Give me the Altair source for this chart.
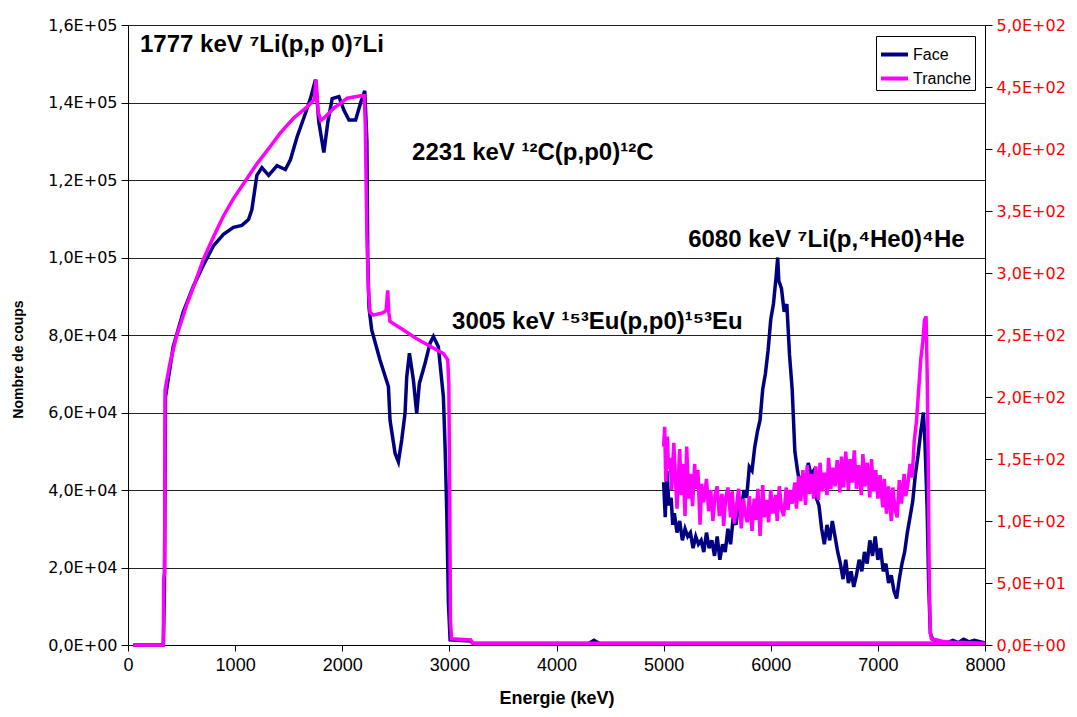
import altair as alt
import pandas as pd

# ---------------- data ----------------
# Face, main spectrum (left axis, counts in thousands)
face_a_e = [50, 330, 340, 350, 422, 516, 609, 703, 797, 891, 984, 1063, 1125, 1156, 1203, 1250,
            1313, 1391, 1469, 1516, 1578, 1641, 1703, 1750, 1781, 1828, 1866, 1906, 1969, 2016,
            2063, 2125, 2172, 2210, 2230, 2238, 2250, 2275, 2353, 2431, 2446, 2493, 2524, 2555,
            2586, 2602, 2627, 2664, 2695, 2720, 2773, 2820, 2851, 2897, 2944, 2960, 2976, 2991,
            3007, 3200, 3220, 4300, 4350, 4400, 8000]
face_a_v = [0, 0, 15, 64, 77, 86, 92.5, 98, 103, 106, 107.8, 108.3, 109.8, 112.3, 121.2,
            123.2, 121.2, 123.7, 122.7, 125.2, 131.1, 136, 141, 145.9, 135, 127.1, 135, 141, 141.5,
            138, 135.5, 135.5, 140, 143, 130, 100, 87, 81.3, 73.5, 66.7, 58, 49.5, 47.3, 52.9, 59.8,
            69.2, 75.3, 68.4, 59.8, 67.5, 72.7, 77.9, 79.6, 77, 64.1, 51.2, 34, 10.8, 1.3, 1, 0.4,
            0.4, 1.2, 0.4, 0.4]

# Face, 5000-8000 keV region (left axis, counts in thousands)
face_b_e = [5000, 5015, 5030, 5050, 5070, 5085, 5100, 5125, 5150, 5175, 5200, 5225, 5250, 5275,
            5300, 5325, 5350, 5375, 5400, 5425, 5450, 5475, 5500, 5525, 5550, 5575, 5600, 5625,
            5650, 5675, 5700, 5725, 5750, 5775, 5800, 5825, 5850, 5875, 5900, 5925, 5950, 5975,
            6000, 6025, 6050, 6065, 6075, 6100, 6125, 6150, 6175, 6200, 6225, 6250, 6275, 6300,
            6325, 6350, 6375, 6400, 6425, 6450, 6475, 6500, 6525, 6550, 6575, 6600, 6625, 6650,
            6675, 6700, 6725, 6750, 6775, 6800, 6825, 6850, 6875, 6900, 6925, 6950, 6975, 7000,
            7025, 7050, 7075, 7100, 7125, 7150, 7175, 7200, 7225, 7250, 7275, 7300, 7325, 7350,
            7375, 7400, 7425, 7440, 7460, 7475, 7490, 7510, 7550, 7650, 7700, 7750, 7800, 7850,
            7900, 8000]
face_b_v = [42, 33, 45, 36, 38, 31, 34, 29, 32, 27, 30, 28, 29, 25, 28, 26, 27, 24, 29, 25, 27,
            23, 28, 22, 26, 24, 30, 26, 33, 31, 36, 35, 40, 38, 46, 45, 51, 55, 58, 66, 70, 76,
            84, 88, 95, 100, 94, 92, 86, 88, 75, 66, 50, 45, 41, 44, 40, 47, 44, 45, 38, 36, 30,
            26, 31, 27, 32, 28, 24, 21, 17, 22, 16, 19, 15, 18, 22, 19, 24, 21, 27, 23, 28, 22,
            25, 19, 21, 16, 18, 14, 12, 17, 21, 24, 29, 33, 37, 44, 49, 55, 60, 52, 35, 15, 3,
            1.5, 1, 0.6, 1.2, 0.6, 1.5, 0.8, 1.2, 0.5]

# Tranche, main spectrum (right axis, counts)
tr_a_e = [50, 330, 333, 342, 346, 391, 453, 547, 625, 703, 797, 891, 984, 1078, 1203, 1328,
          1422, 1547, 1672, 1740, 1755, 1775, 1800, 1830, 1922, 2047, 2172, 2205, 2215, 2230,
          2244, 2260, 2290, 2384, 2410, 2424, 2435, 2446, 2571, 2695, 2820, 2944, 2985, 2995,
          3003, 3010, 3020, 3200, 3220, 8000]
tr_a_v = [0, 0, 54, 58, 206, 227, 249, 274, 292, 311, 329, 346, 360, 372, 388, 402, 413, 425,
          434, 440, 456, 430, 423, 425, 433, 441, 443, 443, 420, 330, 286, 268, 266, 268, 270,
          286, 268, 261, 254, 247, 241, 235, 230, 210, 120, 20, 5, 4, 1.5, 1.5]

# Tranche, 5000-8000 keV region (right axis, counts)
tr_b_e = [5000, 5010, 5020, 5035, 5045, 5060, 5075, 5095, 5110, 5125, 5150, 5165, 5180, 5200,
          5215, 5235, 5250, 5270, 5290, 5300, 5320, 5340, 5355, 5375, 5400, 5420, 5440, 5460,
          5480, 5500, 5520, 5545, 5560, 5580, 5600, 5625, 5640, 5660, 5680, 5700, 5725, 5745,
          5760, 5780, 5800, 5825, 5845, 5860, 5880, 5900, 5925, 5940, 5960, 5980, 6000, 6020,
          6045, 6060, 6080, 6100, 6120, 6145, 6160, 6180, 6200, 6225, 6240, 6260, 6280, 6300,
          6325, 6340, 6360, 6380, 6400, 6420, 6445, 6460, 6480, 6500, 6525, 6540, 6560, 6580,
          6600, 6620, 6645, 6660, 6680, 6700, 6725, 6740, 6760, 6780, 6800, 6820, 6845, 6860,
          6880, 6900, 6925, 6940, 6960, 6980, 7000, 7020, 7045, 7060, 7080, 7100, 7125, 7140,
          7160, 7180, 7200, 7220, 7245, 7260, 7280, 7300, 7320, 7340, 7360, 7380, 7400, 7420,
          7435, 7450, 7460, 7470, 7480, 7490, 7500, 7600, 7700, 7800, 8000]
tr_b_v = [160, 176, 132, 168, 142, 151, 125, 163, 135, 110, 158, 121, 146, 104, 160, 118, 138,
          112, 146, 126, 141, 97, 130, 115, 134, 108, 125, 100, 121, 128, 104, 122, 96, 119, 127,
          103, 124, 98, 112, 126, 94, 118, 107, 99, 120, 92, 118, 101, 126, 88, 129, 103, 117,
          99, 125, 106, 121, 100, 128, 110, 104, 127, 109, 125, 114, 131, 110, 136, 116, 141,
          113, 145, 122, 138, 118, 144, 117, 147, 124, 139, 121, 151, 126, 143, 128, 149, 123,
          152, 127, 156, 125, 150, 131, 157, 126, 145, 121, 154, 128, 147, 119, 150, 124, 141,
          118, 137, 111, 134, 106, 128, 100, 127, 110, 103, 133, 114, 138, 120, 130, 146, 135,
          165, 180, 205, 230, 245, 262, 265, 220, 150, 50, 10, 5, 3, 2, 2, 1]

# Annotations (energy keV, counts in thousands on left axis)
ann_text = ["1777 keV \u2077Li(p,p 0)\u2077Li", "2231 keV \u00b9\u00b2C(p,p0)\u00b9\u00b2C",
            "6080 keV \u2077Li(p,\u2074He0)\u2074He", "3005 keV \u00b9\u2075\u00b3Eu(p,p0)\u00b9\u2075\u00b3Eu"]
ann_e = [112, 2652, 5229, 3025]
ann_v = [154.8, 127, 104.5, 83.4]

x_ticks = [0, 1000, 2000, 3000, 4000, 5000, 6000, 7000, 8000]
left_ticks = [0, 20000, 40000, 60000, 80000, 100000, 120000, 140000, 160000]
right_ticks = [0, 50, 100, 150, 200, 250, 300, 350, 400, 450, 500]

# ---------------- tables ----------------
face = pd.concat([
    pd.DataFrame({"E": face_a_e, "v": [k * 1000 for k in face_a_v], "seg": "a", "series": "Face"}),
    pd.DataFrame({"E": face_b_e, "v": [k * 1000 for k in face_b_v], "seg": "b", "series": "Face"}),
])
tranche = pd.concat([
    pd.DataFrame({"E": tr_a_e, "v": tr_a_v, "seg": "a", "series": "Tranche"}),
    pd.DataFrame({"E": tr_b_e, "v": tr_b_v, "seg": "b", "series": "Tranche"}),
])
ann = pd.DataFrame({"E": ann_e, "v": [k * 1000 for k in ann_v], "t": ann_text})

FONT = "Liberation Sans"
lab_expr = ("datum.value == 0 ? '0,0E+00' : "
            "replace(format(datum.value / pow(10, floor(log(datum.value)/LN10 + 1e-9)), '.1f'), '.', ',')"
            " + 'E+' + (floor(log(datum.value)/LN10 + 1e-9) < 10 ? '0' : '')"
            " + floor(log(datum.value)/LN10 + 1e-9)")

xenc = alt.X("E:Q", scale=alt.Scale(domain=[0, 8000], nice=False),
             axis=alt.Axis(values=x_ticks, title="Energie (keV)", grid=False, format="d",
                           labelFlush=False, labelFont=FONT, labelFontSize=18,
                           labelColor="black", titleFont=FONT, titleFontSize=18,
                           titleFontWeight="bold", titleColor="black", titleBaseline="middle",
                           titleY=53, tickSize=6, tickColor="black", domainColor="black",
                           labelPadding=5))

yleft = alt.Y("v:Q", scale=alt.Scale(domain=[0, 160000], nice=False),
              axis=alt.Axis(values=left_ticks, title="Nombre de coups", labelExpr=lab_expr,
                            grid=True, gridColor="#222222", gridWidth=1,
                            labelFont="DejaVu Sans", labelFontSize=16, labelColor="black",
                            titleFont=FONT, titleFontSize=14, titleFontWeight="bold",
                            titleColor="black", titleX=-110, titleY=334,
                            titleAlign="center", titleBaseline="middle", titleAngle=270,
                            tickSize=7, tickColor="black", domainColor="black",
                            labelPadding=4))

color = alt.Color("series:N",
                  scale=alt.Scale(domain=["Face", "Tranche"], range=["#000080", "#FF00FF"]),
                  legend=alt.Legend(title=None, orient="none", legendX=748, legendY=11,
                                    symbolType="stroke", symbolStrokeWidth=4, symbolSize=729,
                                    labelFont=FONT, labelFontSize=16, labelColor="black",
                                    strokeColor="black", fillColor="white", padding=3,
                                    rowPadding=0, labelOffset=3))

face_layer = alt.Chart(face).mark_line(strokeWidth=3.5, interpolate="linear").encode(
    x=xenc, y=yleft, color=color, detail="seg:N",
)

text_layer = alt.Chart(ann).mark_text(align="left", baseline="middle", font=FONT,
                                      fontSize=24, fontWeight="bold", color="black").encode(
    x=xenc, y=yleft, text="t:N",
)

tr_layer = alt.Chart(tranche).mark_line(strokeWidth=3.5, interpolate="linear").encode(
    x=xenc,
    y=alt.Y("v:Q", scale=alt.Scale(domain=[0, 500], nice=False),
            axis=alt.Axis(values=right_ticks, title=None, orient="right", labelExpr=lab_expr,
                          grid=False, labelFont="DejaVu Sans", labelFontSize=16,
                          labelColor="#FF0000", tickSize=7, tickColor="black",
                          domainColor="black", labelPadding=4)),
    color=color,
    detail="seg:N",
)

chart = alt.layer(alt.layer(face_layer, text_layer), tr_layer).resolve_scale(
    y="independent"
).properties(
    width=857, height=620,
    autosize=alt.AutoSizeParams(type="none"),
    padding={"left": 120, "top": 17, "right": 83, "bottom": 64},
).configure_view(stroke=None).configure(background="white")

chart.save("out.html", embed_options={"renderer": "svg", "actions": False})
